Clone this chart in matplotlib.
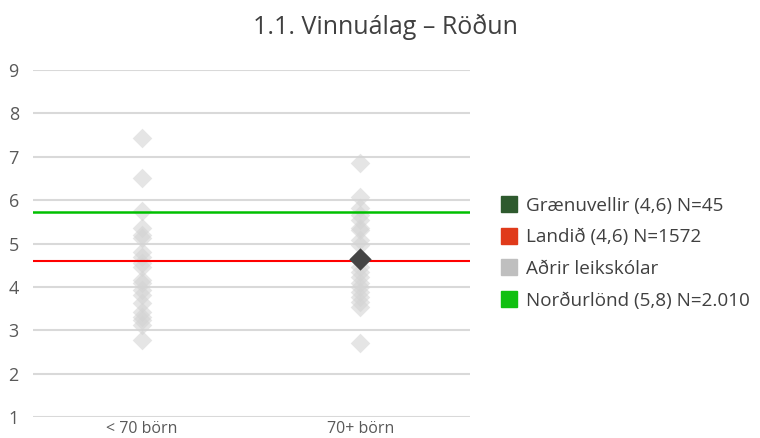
import numpy as np
import matplotlib.pyplot as plt
from matplotlib.lines import Line2D

plt.rcParams['font.family'] = ['Open Sans', 'DejaVu Sans']

categories = ['< 70 börn', '70+ börn']
others_small = [7.43, 6.51, 5.75, 5.36, 5.20, 5.13, 4.81, 4.69, 4.55, 4.46,
                4.16, 4.09, 3.93, 3.82, 3.63, 3.42, 3.31, 3.24, 3.12, 2.78]
others_large = [6.86, 6.07, 5.82, 5.66, 5.54, 5.36, 5.31, 5.08, 4.97, 4.46,
                4.35, 4.23, 4.09, 4.00, 3.88, 3.77, 3.65, 3.54, 2.71]
school_cat = 1
school_value = 4.65
landid = 4.6
nordurlond = 5.73
legend_labels = ['Grænuvellir (4,6) N=45', 'Landið (4,6) N=1572',
                 'Aðrir leikskólar', 'Norðurlönd (5,8) N=2.010']

fig = plt.figure(figsize=(7.6, 4.38), dpi=100)
ax = fig.add_axes([0.043, 0.048, 0.575, 0.792])

xs = [0.5, 1.5]
ax.scatter([xs[0]] * len(others_small), others_small, marker='D', s=100,
           color='#d4d4d4', alpha=0.6, linewidths=0, zorder=3)
ax.scatter([xs[1]] * len(others_large), others_large, marker='D', s=100,
           color='#d4d4d4', alpha=0.6, linewidths=0, zorder=3)
ax.scatter([xs[school_cat]], [school_value], marker='D', s=130,
           color='#454545', linewidths=0, zorder=5)

ax.axhline(landid, color='#ff0000', lw=1.5, zorder=4)
ax.axhline(nordurlond, color='#00c000', lw=1.8, zorder=4)

ax.set_xlim(0, 2)
ax.set_ylim(1, 9)
ax.set_yticks(range(1, 10))
ax.set_xticks(xs)
ax.set_xticklabels(categories)
ax.grid(axis='y', color='#d9d9d9', lw=1.5, zorder=0)
ax.set_axisbelow(True)
for s in ax.spines.values():
    s.set_visible(False)
ax.tick_params(axis='y', length=0, labelsize=13, labelcolor='#595959', pad=10)
ax.tick_params(axis='x', length=0, labelsize=11.5, labelcolor='#595959', pad=3)

fig.text(0.507, 0.938, '1.1. Vinnuálag – Röðun', ha='center', va='center',
         fontsize=18, color='#404040')

colors = ['#2e5a2e', '#e03a1a', '#bfbfbf', '#10c010']
handles = [Line2D([], [], marker='s', ls='', color=c, markersize=11) for c in colors]
fig.legend(handles, legend_labels, loc='center left', bbox_to_anchor=(0.637, 0.422),
           frameon=False, fontsize=13.6, labelcolor='#404040', handlelength=0.8,
           handletextpad=0.5, labelspacing=0.72)

fig.savefig('out.png', dpi=100)
